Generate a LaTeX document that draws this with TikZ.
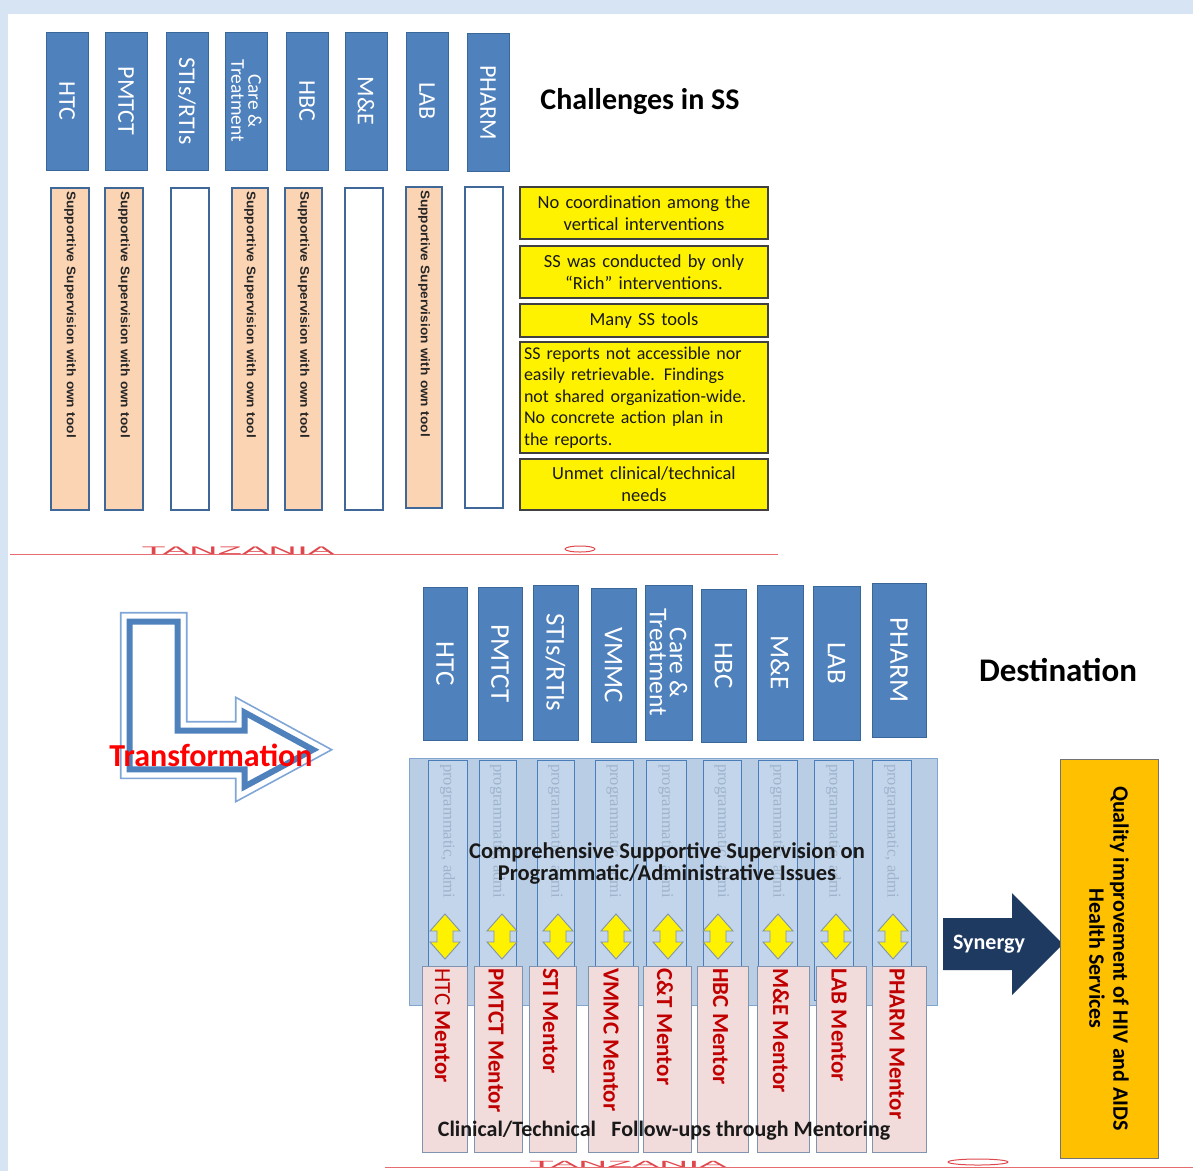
\documentclass[tikz,border=0pt]{standalone}
\usepackage{fontspec}
\setmainfont{Carlito}
\newfontfamily\arialf{Liberation Sans}
\newfontfamily\serf{Liberation Serif}
\definecolor{bgblue}{HTML}{D6E4F4}
\definecolor{hdrblue}{HTML}{4F81BD}
\definecolor{hdredge}{HTML}{3A6799}
\definecolor{peach}{HTML}{FBD4B4}
\definecolor{panelblue}{HTML}{B9CDE5}
\definecolor{colfill}{HTML}{C3D5EA}
\definecolor{coledge}{HTML}{4A7EBB}
\definecolor{faint}{HTML}{9DB3CC}
\definecolor{mentorpink}{HTML}{F2DCDB}
\definecolor{mentorred}{HTML}{C00000}
\definecolor{navy}{HTML}{1F3A60}
\definecolor{qorange}{HTML}{FFC000}
\definecolor{tzred}{HTML}{E0474C}
\definecolor{arrowlight}{HTML}{7FA6D6}
\definecolor{yarrowedge}{HTML}{8094B0}
\tikzset{
  hdr/.style={draw=hdredge, line width=0.8pt, fill=hdrblue, text=white, rotate=-90, inner sep=0pt, align=center, font=\fontsize{24}{22}\selectfont},
  hdrb/.style={hdr, font=\fontsize{27}{24}\selectfont},
  sbox/.style={draw=hdrblue!80!black, line width=1.5pt, rotate=-90, inner ysep=0pt, inner xsep=3pt, align=left, font=\arialf\bfseries\fontsize{12.5}{13}\selectfont, text=black!85},
  ybox/.style={draw=black!75, line width=1.2pt, fill=yellow, inner sep=2pt, align=center, font=\fontsize{18.5}{22}\selectfont, text=black!90},
  col/.style={draw=coledge, line width=1pt, fill=colfill, inner sep=0pt},
  faintt/.style={rotate=-90, anchor=west, inner sep=0pt, text=faint, font=\serf\fontsize{16.5}{16}\selectfont},
  yarrow/.style={fill=yellow, draw=yarrowedge, line width=0.9pt, line join=miter},
  mbox/.style={draw=yarrowedge, line width=1pt, fill=mentorpink, inner sep=0pt},
  mtext/.style={rotate=-90, anchor=west, inner sep=0pt, text=mentorred, font=\bfseries\fontsize{23}{23}\selectfont},
  title/.style={font=\bfseries\fontsize{30}{32}\selectfont, text=black},
  tz/.style={text=tzred, inner sep=0pt, font=\arialf\fontsize{11}{11}\selectfont},
  tzline/.style={draw=tzred!80, line width=0.9pt},
}
\begin{document}
\begin{tikzpicture}[x=1pt,y=-1pt]
\useasboundingbox (0,0) rectangle (1193,1171);
% background frame
\fill[bgblue] (0,0) rectangle (1193,1171);
\fill[white] (8,14) rectangle (1193,1171);

% ---------- top section headers ----------
\node[hdr, minimum width=138, minimum height=42] (t1) at (67,101) {HTC};
\node[hdr, minimum width=138, minimum height=42] (t2) at (126,101) {PMTCT};
\node[hdr, minimum width=138, minimum height=42] (t3) at (187,101) {STIs/RTIs};
\node[hdr, minimum width=138, minimum height=42, font=\fontsize{19.5}{17}\selectfont] (t4) at (246.5,101) {Care \&\\Treatment};
\node[hdr, minimum width=138, minimum height=42] (t5) at (307,101) {HBC};
\node[hdr, minimum width=138, minimum height=42] (t6) at (366,101) {M\&E};
\node[hdr, minimum width=138, minimum height=42] (t7) at (427,101) {LAB};
\node[hdr, minimum width=138, minimum height=42] (t8) at (488,102.5) {PHARM};

% ---------- top section lower boxes ----------
\node[sbox, fill=peach, minimum width=322, minimum height=38, text width=316] (s1) at (70,349) {\scalebox{1.09}[1]{Supportive Supervision with own tool}};
\node[sbox, fill=peach, minimum width=322, minimum height=38, text width=316] (s2) at (124,349) {\scalebox{1.09}[1]{Supportive Supervision with own tool}};
\node[sbox, fill=white, minimum width=322, minimum height=38] (s3) at (190,349) {};
\node[sbox, fill=peach, minimum width=322, minimum height=36, text width=316] (s4) at (250,349) {\scalebox{1.09}[1]{Supportive Supervision with own tool}};
\node[sbox, fill=peach, minimum width=322, minimum height=37, text width=316] (s5) at (303.5,349) {\scalebox{1.09}[1]{Supportive Supervision with own tool}};
\node[sbox, fill=white, minimum width=322, minimum height=38] (s6) at (364,349) {};
\node[sbox, fill=peach, minimum width=321, minimum height=36, text width=315] (s7) at (424,347.5) {\scalebox{1.09}[1]{Supportive Supervision with own tool}};
\node[sbox, fill=white, minimum width=321, minimum height=38] (s8) at (484,347.5) {};

% ---------- challenges ----------
\node[title] (chal) at (640,102) {Challenges in SS};
\node[ybox, minimum width=248, minimum height=52, text width=244] (c1) at (644,213) {No coordination among the\\vertical interventions};
\node[ybox, minimum width=248, minimum height=52, text width=244] (c2) at (644,272) {SS was conducted by only\\“Rich” interventions.};
\node[ybox, minimum width=248, minimum height=33, text width=244] (c3) at (644,320.5) {Many SS tools};
\node[ybox, minimum width=248, minimum height=111, text width=240, inner xsep=4pt, align=left, font=\fontsize{18}{21.5}\selectfont] (c4) at (644,397.5) {SS reports not accessible nor\\easily retrievable. Findings\\not shared organization-wide.\\No concrete action plan in\\the reports.};
\node[ybox, minimum width=248, minimum height=51, text width=244] (c5) at (644,484.5) {Unmet clinical/technical\\needs};

% ---------- Tanzania line 1 ----------
\draw[tzline] (10,554) -- (778,554);
\node[tz] (tz1) at (238,550.5) {\scalebox{3.6}[1]{TANZANIA}};
\draw[draw=tzred, line width=1pt] (580,549) ellipse [x radius=15, y radius=3];

% ---------- transformation arrow ----------
\draw[arrowlight, line width=1.6pt, fill=white, line join=miter]
  (120.7,612.7) -- (186.7,612.7) -- (186.7,721.7) -- (235.7,721.7) -- (235.7,697.3)
  -- (331.7,749.7) -- (235.7,801.7) -- (235.7,778.3) -- (120.7,778.3) -- cycle;
\draw[hdrblue, line width=6pt, line join=miter]
  (129.7,621.7) -- (177.7,621.7) -- (177.7,730.7) -- (244.7,730.7) -- (244.7,712.5)
  -- (313,749.7) -- (244.7,786.5) -- (244.7,769.3) -- (129.7,769.3) -- cycle;
\node[text=red, font=\bfseries\fontsize{32}{32}\selectfont] (trans) at (211,755) {Transformation};

% ---------- bottom section headers ----------
\node[hdrb, minimum width=153, minimum height=44] (b1) at (445,663.5) {HTC};
\node[hdrb, minimum width=153, minimum height=44] (b2) at (500,663.5) {PMTCT};
\node[hdrb, minimum width=155, minimum height=45] (b3) at (555.5,662.5) {STIs/RTIs};
\node[hdrb, minimum width=154, minimum height=45] (b4) at (613.5,665) {VMMC};
\node[hdrb, minimum width=155, minimum height=47, font=\fontsize{25.5}{20}\selectfont] (b5) at (668.5,662.5) {Care \&\\Treatment};
\node[hdrb, minimum width=153, minimum height=45] (b6) at (723.5,665.5) {HBC};
\node[hdrb, minimum width=155, minimum height=46] (b7) at (780,662.5) {M\&E};
\node[hdrb, minimum width=154, minimum height=47] (b8) at (836.5,663) {LAB};
\node[hdrb, minimum width=154, minimum height=54] (b9) at (899,660) {PHARM};
\node[title, font=\bfseries\fontsize{33}{34}\selectfont] (dest) at (1058,670) {Destination};

% ---------- comprehensive panel ----------
\node[draw=coledge!70, line width=1pt, fill=panelblue, minimum width=528, minimum height=247, inner sep=0pt] (panel) at (673,881.5) {};
\foreach \i/\a/\b in {1/428/467, 2/479/516, 3/537/574, 4/595/633, 5/646/686, 6/703/741, 7/758/797, 8/814/853, 9/872/911}{
  \node[col, minimum width={\b-\a}, minimum height=240] (col\i) at ({(\a+\b)/2},880) {};
  \node[faintt] (ft\i) at ({(\a+\b)/2},764) {programmatic, admi};
}
\node[align=center, text=black!90, font=\bfseries\fontsize{22.5}{22}\selectfont] (comp) at (667,863) {Comprehensive Supportive Supervision on\\Programmatic/Administrative Issues};

% ---------- mentor boxes ----------
\foreach \i/\a/\b/\t in {1/422/467/{{\mdseries HTC} Mentor}, 2/474/522/{PMTCT Mentor}, 3/529/576/{STI Mentor}, 4/588/638/{VMMC Mentor}, 5/643/691/{C\&T Mentor}, 6/697/748/{HBC Mentor}, 7/757/809/{M\&E Mentor}, 8/816/866/{LAB Mentor}, 9/872/926/{PHARM Mentor}}{
  \node[mbox, minimum width={\b-\a}, minimum height=186] (m\i) at ({(\a+\b)/2},1059) {};
  \node[mtext] (mt\i) at ({(\a+\b)/2-2},968) {\t};
}

% ---------- yellow up-down arrows ----------
\foreach \i/\c in {1/445, 2/502, 3/558, 4/616, 5/668, 6/718, 7/778, 8/836, 9/893}{
  \draw[yarrow] (\c,914) -- ({\c+15},931) -- ({\c+8},931) -- ({\c+8},942) -- ({\c+15},942)
    -- (\c,959) -- ({\c-15},942) -- ({\c-8},942) -- ({\c-8},931) -- ({\c-15},931) -- cycle;
}

\node[text=black!90, font=\bfseries\fontsize{22}{22}\selectfont] (clin) at (664,1131) {Clinical/Technical\hspace{0.7em}Follow-ups through Mentoring};

% ---------- synergy arrow and quality box ----------
\fill[navy] (943,918) -- (1012,918) -- (1012,893) -- (1063,944) -- (1012,995) -- (1012,970) -- (943,970) -- cycle;
\node[text=white, font=\bfseries\fontsize{22}{22}\selectfont] (syn) at (989,944) {Synergy};
\node[draw=black!55, line width=1pt, fill=qorange, rotate=-90, minimum width=399, minimum height=98, align=center, inner sep=0pt, font=\bfseries\fontsize{22}{24}\selectfont] (qual) at (1109,958.5) {Quality improvement of HIV and AIDS\\Health Services};

% ---------- Tanzania line 2 ----------
\draw[tzline] (385,1167) -- (1193,1167);
\node[tz, font=\arialf\fontsize{9}{9}\selectfont] (tz2) at (628,1164.5) {\scalebox{4.5}[1]{TANZANIA}};
\draw[draw=tzred, line width=1pt] (978,1162) ellipse [x radius=30, y radius=3];
\end{tikzpicture}
\end{document}
